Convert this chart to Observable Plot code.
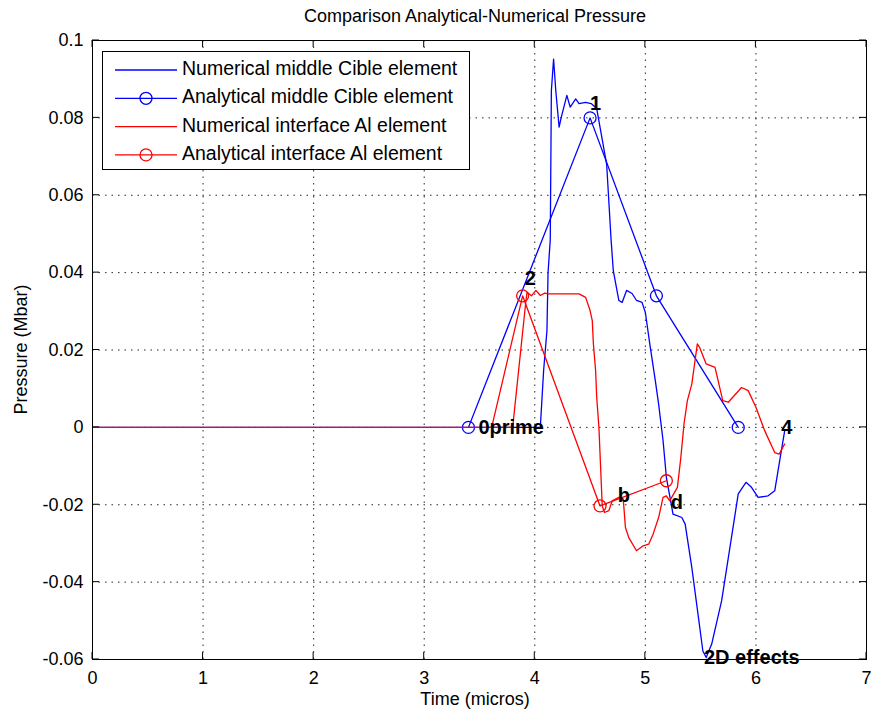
<!DOCTYPE html>
<html><head><meta charset="utf-8">
<script src="https://cdn.jsdelivr.net/npm/d3@7"></script>
<script src="https://cdn.jsdelivr.net/npm/@observablehq/plot@0.6"></script>
<style>html,body{margin:0;padding:0;background:#fff} svg{display:block}</style>
</head><body><div id="chart"></div>
<script>
// ---- data ----
const titleText = "Comparison Analytical-Numerical Pressure";
const xLabel = "Time (micros)";
const yLabel = "Pressure (Mbar)";
const xTicks = [0, 1, 2, 3, 4, 5, 6, 7];
const yTicks = [-0.06, -0.04, -0.02, 0, 0.02, 0.04, 0.06, 0.08, 0.1];

const seriesNames = ["Numerical middle Cible element", "Analytical middle Cible element",
                     "Numerical interface Al element", "Analytical interface Al element"];

const numCibleT = [0, 4.05, 4.08, 4.11, 4.12, 4.14, 4.15, 4.17, 4.19, 4.22, 4.24, 4.29, 4.32, 4.37, 4.40, 4.46, 4.51, 4.56, 4.60, 4.65, 4.69, 4.71, 4.76, 4.79, 4.83, 4.88, 4.92, 4.97, 5.00, 5.04, 5.09, 5.12, 5.16, 5.19, 5.25, 5.33, 5.36, 5.42, 5.48, 5.52, 5.55, 5.60, 5.69, 5.76, 5.84, 5.91, 5.96, 6.02, 6.11, 6.17, 6.23, 6.26];
const numCibleP = [0, 0, 0.0147, 0.025, 0.040, 0.0485, 0.087, 0.0952, 0.087, 0.0776, 0.0802, 0.0858, 0.0828, 0.0849, 0.0837, 0.084, 0.0837, 0.0824, 0.076, 0.068, 0.0485, 0.0405, 0.0328, 0.0323, 0.0354, 0.0346, 0.0328, 0.0323, 0.0297, 0.0216, 0.0121, 0.006, -0.0034, -0.0129, -0.0224, -0.0233, -0.025, -0.0362, -0.0491, -0.0578, -0.0595, -0.056, -0.0448, -0.0319, -0.0172, -0.0142, -0.0155, -0.0181, -0.0177, -0.0164, -0.006, -0.0009];

const anaCibleT = [3.40, 4.50, 5.10, 5.84];
const anaCibleP = [0, 0.080, 0.034, 0];

const numAlT = [0, 3.80, 3.92, 3.93, 3.97, 4.01, 4.05, 4.09, 4.12, 4.40, 4.46, 4.50, 4.52, 4.53, 4.55, 4.56, 4.58, 4.61, 4.63, 4.67, 4.70, 4.76, 4.80, 4.82, 4.85, 4.92, 4.98, 5.03, 5.07, 5.12, 5.16, 5.19, 5.22, 5.29, 5.32, 5.35, 5.38, 5.42, 5.47, 5.49, 5.55, 5.63, 5.70, 5.75, 5.87, 5.93, 6.00, 6.08, 6.17, 6.21, 6.26];
const numAlP = [0, 0, 0.0328, 0.0349, 0.034, 0.0354, 0.0341, 0.0347, 0.0345, 0.0345, 0.0336, 0.0302, 0.0276, 0.0216, 0.0147, 0.0078, 0, -0.0203, -0.022, -0.0215, -0.019, -0.0181, -0.0185, -0.0259, -0.0285, -0.0319, -0.0306, -0.0302, -0.0276, -0.0233, -0.0181, -0.0177, -0.019, -0.0155, -0.008, 0.001, 0.0069, 0.0112, 0.0216, 0.0207, 0.0164, 0.0155, 0.0069, 0.0065, 0.0103, 0.0095, 0.0052, -0.0009, -0.0065, -0.0069, -0.0043];

const anaAlT = [3.61, 3.89, 4.59, 5.19];
const anaAlP = [0, 0.034, -0.0203, -0.0138];

const labelText = ["0prime", "1", "2", "b", "d", "4", "2D effects"];
const labelT = [3.49, 4.50, 3.91, 4.75, 5.23, 6.23, 5.53];
const labelP = [0, 0.0837, 0.0385, -0.0177, -0.0195, 0, -0.0594];

(function () {
// ---- build tables ----
const BLUE = "#0000ff", RED = "#ff0000";
const rows = (t, p) => t.map((x, i) => ({x, y: p[i]}));
const numCible = rows(numCibleT, numCibleP);
const anaCible = rows(anaCibleT, anaCibleP);
const numAl = rows(numAlT, numAlP);
const anaAl = rows(anaAlT, anaAlP);
const labels = labelText.map((t, i) => ({t, x: labelT[i], y: labelP[i]}));

const W = 872, H = 717;
const FONT = "'Liberation Sans', Arial, Helvetica, sans-serif";
const plot = Plot.plot({
  width: W, height: H,
  marginLeft: 92, marginRight: 6, marginTop: 40, marginBottom: 58,
  style: {fontFamily: FONT, fontSize: "18px", background: "#fff", color: "#000", overflow: "visible"},
  x: {domain: [0, 7], ticks: xTicks},
  y: {domain: [-0.06, 0.1], ticks: yTicks},
  marks: [
    Plot.gridX(xTicks, {stroke: "#000", strokeOpacity: 0.85, strokeDasharray: "1.5,5"}),
    Plot.gridY(yTicks, {stroke: "#000", strokeOpacity: 0.85, strokeDasharray: "1.5,5"}),
    Plot.axisX(xTicks, {anchor: "bottom", tickSize: 0, tickPadding: 12, label: null,
      tickFormat: d => String(d), fontSize: 18}),
    Plot.axisY(yTicks, {anchor: "left", tickSize: 0, tickPadding: 9, label: null,
      tickFormat: d => String(+d.toFixed(2)), fontSize: 18}),
    Plot.line(numCible, {x: "x", y: "y", stroke: BLUE, strokeWidth: 1.3}),
    Plot.line(anaCible, {x: "x", y: "y", stroke: BLUE, strokeWidth: 1.3}),
    Plot.dot(anaCible, {x: "x", y: "y", r: 6, stroke: BLUE, fill: "none", strokeWidth: 1.3}),
    Plot.line(numAl, {x: "x", y: "y", stroke: RED, strokeWidth: 1.3}),
    Plot.line(anaAl, {x: "x", y: "y", stroke: RED, strokeWidth: 1.3}),
    Plot.dot(anaAl, {x: "x", y: "y", r: 6, stroke: RED, fill: "none", strokeWidth: 1.3,
      filter: (d, i) => i > 0}),
    Plot.text(labels, {x: "x", y: "y", text: "t", textAnchor: "start", fontWeight: "bold",
      fontSize: 20, fill: "#000"}),
    Plot.frame({stroke: "#000", strokeWidth: 1})
  ]
});
document.getElementById("chart").appendChild(plot);

// ---- decorations using the plot's own scales ----
const sx = plot.scale("x"), sy = plot.scale("y");
const svg = d3.select(plot);
const xL = sx.apply(0), xR = sx.apply(7), yT = sy.apply(0.1), yB = sy.apply(-0.06);
const TL = 7;
const tg = svg.append("g").attr("stroke", "#000").attr("stroke-width", 1);
xTicks.forEach(v => {
  const px = sx.apply(v);
  tg.append("line").attr("x1", px).attr("x2", px).attr("y1", yB).attr("y2", yB - TL);
  tg.append("line").attr("x1", px).attr("x2", px).attr("y1", yT).attr("y2", yT + TL);
});
yTicks.forEach(v => {
  const py = sy.apply(v);
  tg.append("line").attr("y1", py).attr("y2", py).attr("x1", xL).attr("x2", xL + TL);
  tg.append("line").attr("y1", py).attr("y2", py).attr("x1", xR).attr("x2", xR - TL);
});

// title & axis labels
const cx = (xL + xR) / 2, cy = (yT + yB) / 2;
svg.append("text").attr("x", cx - 4).attr("y", 17).attr("text-anchor", "middle")
  .attr("dominant-baseline", "middle").attr("font-size", 18).attr("font-family", FONT)
  .attr("fill", "#000").text(titleText);
svg.append("text").attr("x", cx - 4).attr("y", 700).attr("text-anchor", "middle")
  .attr("dominant-baseline", "middle").attr("font-size", 18).attr("font-family", FONT)
  .attr("fill", "#000").text(xLabel);
svg.append("text").attr("transform", `translate(22,${cy}) rotate(-90)`).attr("text-anchor", "middle")
  .attr("dominant-baseline", "middle").attr("font-size", 18).attr("font-family", FONT)
  .attr("fill", "#000").text(yLabel);

// legend
const legColors = [BLUE, BLUE, RED, RED];
const legMarker = [false, true, false, true];
const lg = svg.append("g");
const LX = 102.5, LY = 51.5, LW = 367, LH = 118, ROW = 28.3, R0 = 70;
lg.append("rect").attr("x", LX).attr("y", LY).attr("width", LW).attr("height", LH)
  .attr("fill", "#fff").attr("stroke", "#000").attr("stroke-width", 1);
seriesNames.forEach((name, i) => {
  const y = R0 + i * ROW;
  lg.append("line").attr("x1", 115).attr("x2", 177).attr("y1", y).attr("y2", y)
    .attr("stroke", legColors[i]).attr("stroke-width", 1.3);
  if (legMarker[i]) lg.append("circle").attr("cx", 146).attr("cy", y).attr("r", 6)
    .attr("fill", "none").attr("stroke", legColors[i]).attr("stroke-width", 1.3);
  lg.append("text").attr("x", 182).attr("y", y).attr("dominant-baseline", "middle")
    .attr("text-anchor", "start")
    .attr("font-size", 19.5).attr("font-family", FONT).attr("fill", "#000").text(name);
});
})();
</script>
</body></html>
